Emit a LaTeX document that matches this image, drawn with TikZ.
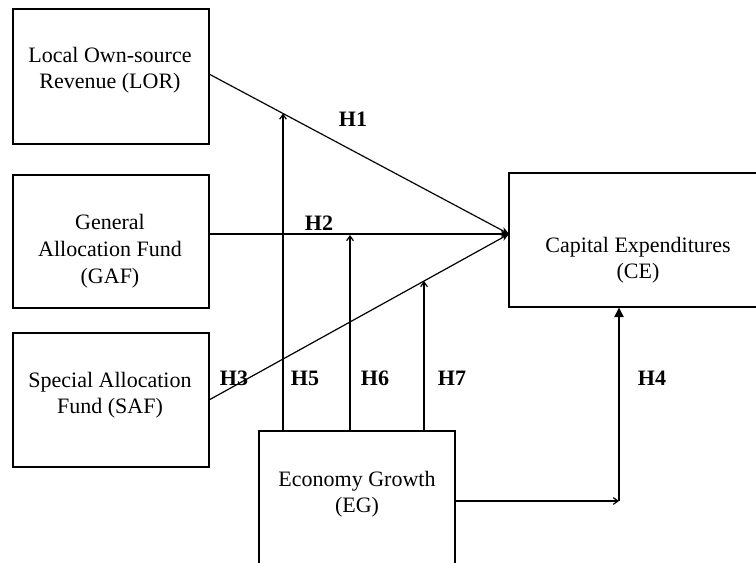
\documentclass[tikz,border=0pt]{standalone}
\usepackage{fontspec}
\setmainfont{Liberation Serif}
\usetikzlibrary{arrows.meta,calc}
\begin{document}
\begin{tikzpicture}[x=0.75pt,y=-0.75pt,
  box/.style={draw,line width=1pt,minimum width=147pt,inner sep=0pt},
  lbl/.style={anchor=base,align=center,font=\fontsize{16.5pt}{19.9pt}\selectfont},
  hyp/.style={anchor=base,font=\fontsize{16.5pt}{19.9pt}\selectfont\bfseries},
  conn/.style={line width=0.9pt},
  thin/.style={conn,-{Straight Barb[length=3.5pt,width=5pt]}},
  conv/.style={conn,-{Stealth[length=6pt,width=5pt]}},
  tri/.style={conn,-{Triangle[length=7pt,width=7pt]}}]
\useasboundingbox (0,0) rectangle (756,563);
\clip (0,0) rectangle (756,563);
% boxes
\node[box,minimum height=101.25pt] (lor) at (111,76.5) {};
\node[box,minimum height=99.75pt] (gaf) at (111,241.5) {};
\node[box,minimum height=100.5pt] (saf) at (111,400) {};
\node[box,minimum width=186pt,minimum height=100.5pt] (ce) at (633,240) {};
\node[box,minimum height=105pt] (eg) at (357,501) {};
% texts
\node[lbl] (lort1) at (110,63) {Local Own-source};
\node[lbl] (lort2) at (110,89) {Revenue (LOR)};
\node[lbl] (gaft1) at (110,229) {General};
\node[lbl] (gaft2) at (110,256) {Allocation Fund};
\node[lbl] (gaft3) at (110,283) {(GAF)};
\node[lbl] (saft1) at (110,387) {Special Allocation};
\node[lbl] (saft2) at (110,413) {Fund (SAF)};
\node[lbl] (cet1) at (638,252) {Capital Expenditures};
\node[lbl] (cet2) at (638,278) {(CE)};
\node[lbl] (egt1) at (357,486) {Economy Growth};
\node[lbl] (egt2) at (357,512) {(EG)};
% hypothesis labels
\node[hyp] (h1) at (353,127) {H1};
\node[hyp] (h2) at (319,230) {H2};
\node[hyp] (h3) at (234,385) {H3};
\node[hyp] (h5) at (305,385) {H5};
\node[hyp] (h6) at (375,385) {H6};
\node[hyp] (h7) at (452,385) {H7};
\node[hyp] (h4) at (652,385) {H4};
% connection points
\coordinate (tip) at (509,234);
\coordinate (lorout) at (209,74);
\coordinate (gafout) at (209,234);
\coordinate (safout) at (209,400);
\coordinate (m5) at (283,113.5);
\coordinate (m6) at (350,235);
\coordinate (m7) at (424,281);
\coordinate (corner) at (619,501);
% connectors
\draw[conv] (lorout) -- (tip);
\draw[conv] (gafout) -- (tip);
\draw[conv] (safout) -- (tip);
\draw[thin] (eg.north -| m5) -- (m5);
\draw[thin] (eg.north -| m6) -- (m6);
\draw[thin] (eg.north -| m7) -- (m7);
\draw[thin] (eg.east |- corner) -- (corner);
\draw[tri] (corner) -- (corner |- ce.south);
\end{tikzpicture}
\end{document}
